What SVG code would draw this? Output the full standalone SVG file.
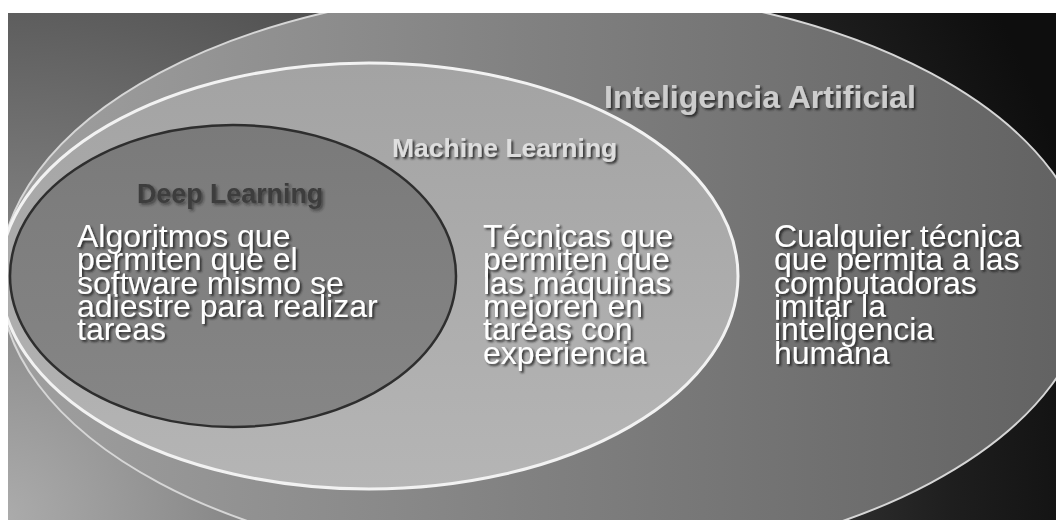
<svg xmlns="http://www.w3.org/2000/svg" width="1056" height="520" viewBox="0 0 1056 520">
  <defs>
    <clipPath id="frame"><rect x="8" y="13" width="1048" height="507"/></clipPath>
    <radialGradient id="bg" cx="0" cy="520" r="1120" gradientUnits="userSpaceOnUse">
      <stop offset="0" stop-color="#acacac"/>
      <stop offset="0.45" stop-color="#5e5e5e"/>
      <stop offset="0.85" stop-color="#1e1e1e"/>
      <stop offset="1" stop-color="#0e0e0e"/>
    </radialGradient>
    <linearGradient id="aiFill" x1="0" y1="0" x2="1" y2="0">
      <stop offset="0" stop-color="#a0a0a0"/>
      <stop offset="0.5" stop-color="#808080"/>
      <stop offset="1" stop-color="#616161"/>
    </linearGradient>
    <linearGradient id="mlFill" x1="0" y1="0" x2="0" y2="1">
      <stop offset="0" stop-color="#a3a3a3"/>
      <stop offset="1" stop-color="#b5b5b5"/>
    </linearGradient>
    <linearGradient id="dlFill" x1="0" y1="0" x2="0" y2="1">
      <stop offset="0" stop-color="#7a7a7a"/>
      <stop offset="1" stop-color="#868686"/>
    </linearGradient>
    <filter id="shadow" x="-10%" y="-30%" width="130%" height="170%">
      <feDropShadow dx="2" dy="2" stdDeviation="1.2" flood-color="#1a1a1a" flood-opacity="0.85"/>
    </filter>
    <filter id="shadowSoft" x="-10%" y="-30%" width="130%" height="170%">
      <feDropShadow dx="2" dy="2" stdDeviation="1.5" flood-color="#202020" flood-opacity="0.6"/>
    </filter>
  </defs>
  <style>
    .title { font-family: "Liberation Sans", Arial, sans-serif; font-weight: bold; }
    .body { font-family: "Liberation Sans", Arial, sans-serif; font-size: 32px; fill: #ffffff; filter: url(#shadow); }
  </style>
  <rect x="0" y="0" width="1056" height="520" fill="#ffffff"/>
  <g clip-path="url(#frame)">
    <rect x="8" y="13" width="1048" height="507" fill="url(#bg)"/>
    <g id="ai">
      <ellipse cx="545" cy="278" rx="545" ry="290" fill="url(#aiFill)" stroke="#d6d6d6" stroke-width="2"/>
    </g>
    <g id="ml">
      <ellipse cx="369" cy="276" rx="369" ry="213" fill="url(#mlFill)" stroke="#f2f2f2" stroke-width="3"/>
    </g>
    <g id="dl">
      <ellipse cx="233" cy="276" rx="223" ry="151" fill="url(#dlFill)" stroke="#2e2e2e" stroke-width="2.5"/>
    </g>
  </g>
  <g id="labels">
    <text class="title" x="604" y="108" font-size="32" fill="#cdcdcd" filter="url(#shadow)">Inteligencia Artificial</text>
    <text class="title" x="392" y="157" font-size="26.5" fill="#dedede" filter="url(#shadow)">Machine Learning</text>
    <text class="title" x="137" y="203" font-size="26.8" fill="#3c3c3c" filter="url(#shadowSoft)">Deep Learning</text>
  </g>
  <g id="dl-text">
    <text class="body" x="77" y="247">Algoritmos que</text>
    <text class="body" x="77" y="270.3">permiten que el</text>
    <text class="body" x="77" y="293.6">software mismo se</text>
    <text class="body" x="77" y="317">adiestre para realizar</text>
    <text class="body" x="77" y="340.3">tareas</text>
  </g>
  <g id="ml-text">
    <text class="body" x="483" y="247">Técnicas que</text>
    <text class="body" x="483" y="270.3">permiten que</text>
    <text class="body" x="483" y="293.6">las máquinas</text>
    <text class="body" x="483" y="317">mejoren en</text>
    <text class="body" x="483" y="340.3">tareas con</text>
    <text class="body" x="483" y="363.6">experiencia</text>
  </g>
  <g id="ai-text">
    <text class="body" x="774" y="247">Cualquier técnica</text>
    <text class="body" x="774" y="270.3">que permita a las</text>
    <text class="body" x="774" y="293.6">computadoras</text>
    <text class="body" x="774" y="317">imitar la</text>
    <text class="body" x="774" y="340.3">inteligencia</text>
    <text class="body" x="774" y="363.6">humana</text>
  </g>
</svg>
